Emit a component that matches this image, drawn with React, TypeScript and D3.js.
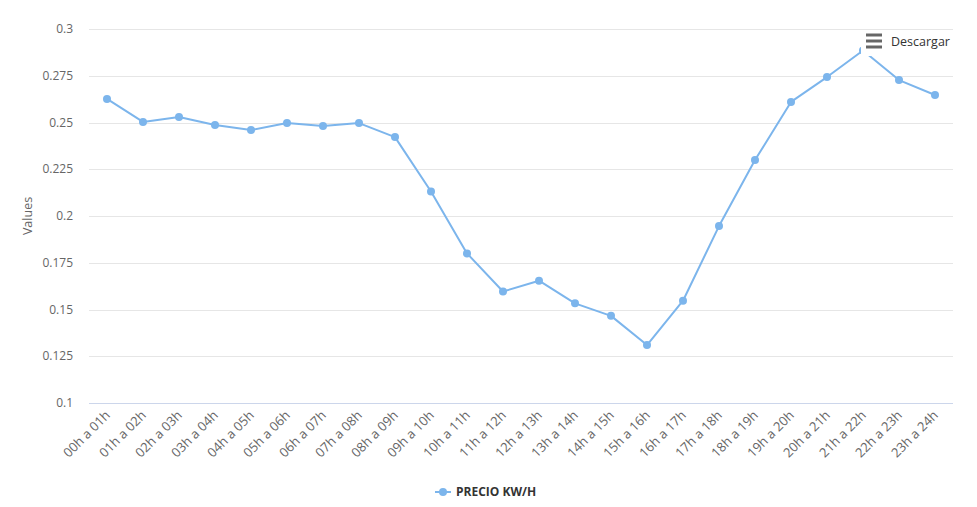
import React from "react";
import * as d3 from "d3";

const categories = [
  "00h a 01h", "01h a 02h", "02h a 03h", "03h a 04h", "04h a 05h", "05h a 06h",
  "06h a 07h", "07h a 08h", "08h a 09h", "09h a 10h", "10h a 11h", "11h a 12h",
  "12h a 13h", "13h a 14h", "14h a 15h", "15h a 16h", "16h a 17h", "17h a 18h",
  "18h a 19h", "19h a 20h", "20h a 21h", "21h a 22h", "22h a 23h", "23h a 24h",
];
const precio = [
  0.2626, 0.2503, 0.2529, 0.2487, 0.246, 0.2497, 0.2481, 0.2497, 0.2422, 0.2131,
  0.18, 0.1596, 0.1654, 0.1533, 0.1466, 0.131, 0.1547, 0.1946, 0.2299, 0.261,
  0.2743, 0.2885, 0.2727, 0.2647,
];
const yTicks = [0.1, 0.125, 0.15, 0.175, 0.2, 0.225, 0.25, 0.275, 0.3];
const seriesName = "PRECIO KW/H";
const yTitle = "Values";
const menuLabel = "Descargar";

const W = 977;
const H = 507;
const FONT = "'Open Sans', 'DejaVu Sans', sans-serif";

export default function App() {
  const x = d3.scaleBand<string>().domain(categories).range([89, 953]);
  const y = d3.scaleLinear().domain([0.1, 0.3]).range([403, 29]);
  const cx = (c: string) => (x(c) as number) + x.bandwidth() / 2;
  const line = d3
    .line<number>()
    .x((_, i) => cx(categories[i]))
    .y((d) => y(d));

  return (
    <svg
      width={W}
      height={H}
      style={{ position: "absolute", left: 0, top: 0, background: "#fff" }}
      fontFamily={FONT}
    >
      <rect x={0} y={0} width={W} height={H} fill="#fff" />
      {yTicks.map((t) => (
        <g key={t}>
          <line
            x1={89}
            x2={953}
            y1={Math.round(y(t)) + 0.5}
            y2={Math.round(y(t)) + 0.5}
            stroke={t === 0.1 ? "#ccd6eb" : "#e6e6e6"}
            strokeWidth={1}
          />
          <text
            x={73}
            y={y(t) + 4}
            textAnchor="end"
            fontSize={12}
            fill="#666666"
          >
            {String(t)}
          </text>
        </g>
      ))}
      <text
        transform={`translate(32,${(y(0.3) + y(0.1)) / 2}) rotate(-90)`}
        textAnchor="middle"
        fontSize={12.5}
        fill="#666666"
      >
        {yTitle}
      </text>
      {categories.map((c) => (
        <text
          key={c}
          transform={`translate(${cx(c) + 4},${416}) rotate(-45)`}
          textAnchor="end"
          fontSize={13}
          fill="#666666"
        >
          {c}
        </text>
      ))}
      <path d={line(precio) || ""} fill="none" stroke="#7cb5ec" strokeWidth={2} strokeLinejoin="round" />
      {precio.map((v, i) => (
        <circle key={i} cx={cx(categories[i])} cy={y(v)} r={4} fill="#7cb5ec" />
      ))}
      {/* export button */}
      <rect x={861} y={31} width={94} height={25} fill="#fff" />
      {[35, 41, 47].map((yy) => (
        <line key={yy} x1={866} x2={882} y1={yy} y2={yy} stroke="#666666" strokeWidth={3} />
      ))}
      <text x={891} y={46} fontSize={12.5} fill="#333333">
        {menuLabel}
      </text>
      {/* legend */}
      <line x1={435} x2={451} y1={492} y2={492} stroke="#7cb5ec" strokeWidth={2} />
      <circle cx={443} cy={492} r={4} fill="#7cb5ec" />
      <text x={456} y={496} fontSize={12} fontWeight="bold" fill="#333333">
        {seriesName}
      </text>
    </svg>
  );
}
